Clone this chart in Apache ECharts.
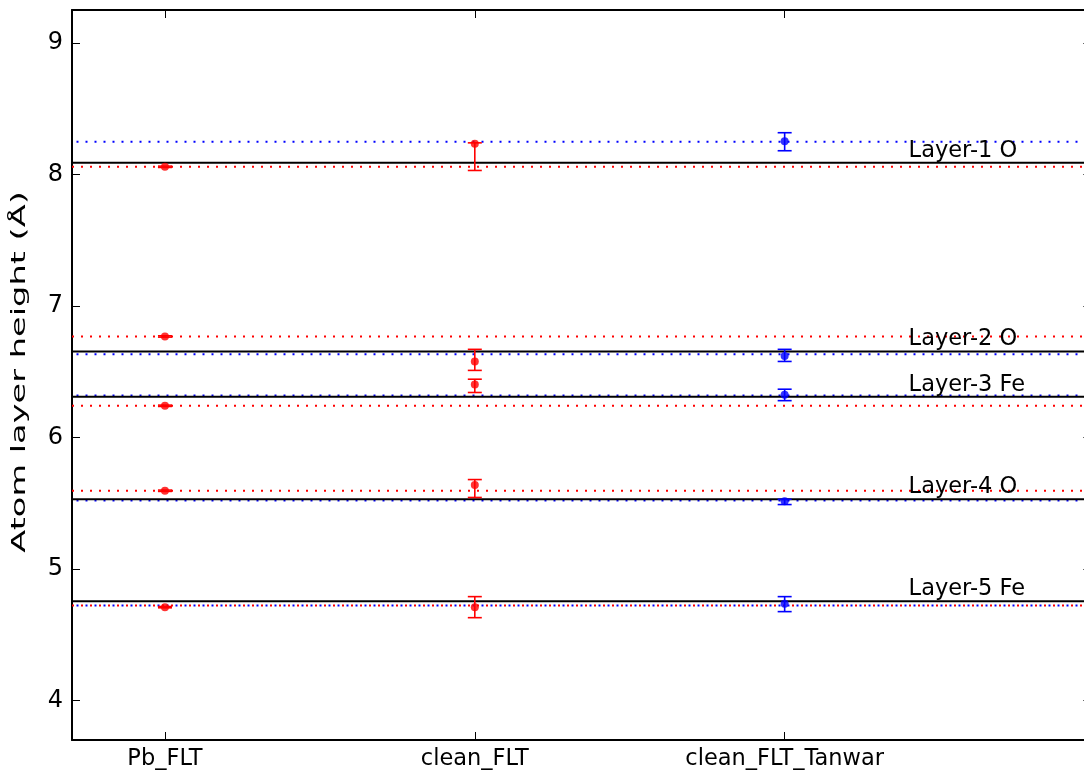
<!DOCTYPE html>
<html>
<head>
<meta charset="utf-8">
<script src="https://cdn.jsdelivr.net/npm/echarts@6/dist/echarts.min.js"></script>
<style>
html,body{margin:0;padding:0;background:#fff;overflow:hidden;}
#chart{width:1084px;height:773px;}
</style>
</head>
<body>
<div id="chart"></div>
<script>
// ---- data ----
const categories = ['Pb_FLT', 'clean_FLT', 'clean_FLT_Tanwar'];
const yTicks = [4, 5, 6, 7, 8, 9];
const yTitle = 'Atom layer height (Å)';
const layerLabels = ['Layer-1 O', 'Layer-2 O', 'Layer-3 Fe', 'Layer-4 O', 'Layer-5 Fe'];

const pbValues = [8.058, 6.768, 6.241, 5.595, 4.710];
const pbLower  = [8.053, 6.763, 6.236, 5.590, 4.705];
const pbUpper  = [8.063, 6.773, 6.246, 5.600, 4.715];

const cleanValues = [8.233, 6.578, 6.403, 5.639, 4.710];
const cleanLower  = [8.030, 6.510, 6.342, 5.544, 4.630];
const cleanUpper  = [8.240, 6.670, 6.443, 5.680, 4.790];

const tanwarValues = [8.253, 6.620, 6.324, 5.515, 4.735];
const tanwarLower  = [8.180, 6.578, 6.280, 5.490, 4.676];
const tanwarUpper  = [8.317, 6.670, 6.367, 5.530, 4.790];

const blackLines = [8.089, 6.654, 6.309, 5.530, 4.755];
const redLines   = [8.058, 6.768, 6.241, 5.595, 4.722];
const blueLines  = [8.248, 6.633, 6.320, 5.520, 4.722];

const labelX = 2.4;
const X_MIN = -0.3, X_MAX = 2.99, Y_MIN = 3.7, Y_MAX = 9.25;

// ---- chart ----
const FONT = 'DejaVu Sans';
const chart = echarts.init(document.getElementById('chart'), null, {renderer: 'canvas'});

function hLineSeries(values, color, dotted, z, offset) {
  return values.map(v => ({
    type: 'line',
    xAxisIndex: 0, yAxisIndex: 0,
    data: [[X_MIN, v], [X_MAX, v]],
    showSymbol: false, symbol: 'none',
    silent: true, animation: false, z: z,
    lineStyle: {color: color, width: 2, type: dotted ? [2, 7] : 'solid', dashOffset: offset || 0}
  }));
}

function errSeries(xIdx, values, lower, upper, color) {
  return {
    type: 'custom',
    xAxisIndex: 0, yAxisIndex: 0,
    z: 5, silent: true, animation: false,
    data: values.map((v, i) => [xIdx, v, lower[i], upper[i]]),
    renderItem: function (params, api) {
      const x = api.value(0);
      const lo = api.coord([x, api.value(2)]);
      const hi = api.coord([x, api.value(3)]);
      const hw = 7;
      const st = {stroke: color, lineWidth: 1.6};
      return {
        type: 'group',
        children: [
          {type: 'line', shape: {x1: lo[0], y1: lo[1], x2: hi[0], y2: hi[1]}, style: st},
          {type: 'line', shape: {x1: lo[0] - hw, y1: lo[1], x2: lo[0] + hw, y2: lo[1]}, style: st},
          {type: 'line', shape: {x1: hi[0] - hw, y1: hi[1], x2: hi[0] + hw, y2: hi[1]}, style: st}
        ]
      };
    }
  };
}

function pointSeries(xIdx, values, color) {
  return {
    type: 'scatter',
    xAxisIndex: 0, yAxisIndex: 0,
    z: 6, silent: true, animation: false,
    symbol: 'circle', symbolSize: 8,
    itemStyle: {color: color},
    data: values.map(v => [xIdx, v])
  };
}

const labelSeries = {
  type: 'custom',
  xAxisIndex: 0, yAxisIndex: 0,
  z: 7, silent: true, animation: false,
  data: blackLines.map((v, i) => [labelX, v, i]),
  renderItem: function (params, api) {
    const p = api.coord([api.value(0), api.value(1)]);
    return {
      type: 'text',
      x: p[0], y: p[1] - 0.5,
      style: {
        text: layerLabels[api.value(2)],
        font: '22.5px "DejaVu Sans"',
        fill: '#000',
        align: 'left',
        verticalAlign: 'bottom'
      }
    };
  }
};

const series = []
  .concat(hLineSeries(redLines, '#ff0000', true, 1, 0))
  .concat(hLineSeries(blueLines, '#0000ff', true, 1, 4.5))
  .concat(hLineSeries(blackLines, '#000000', false, 2, 0))
  .concat([
    errSeries(0, pbValues, pbLower, pbUpper, '#ff0000'),
    errSeries(1, cleanValues, cleanLower, cleanUpper, '#ff0000'),
    errSeries(2, tanwarValues, tanwarLower, tanwarUpper, '#0000ff'),
    pointSeries(0, pbValues, '#ff0000'),
    pointSeries(1, cleanValues, '#ff0000'),
    pointSeries(2, tanwarValues, '#0000ff'),
    labelSeries
  ]);

const tickIdx = categories.map((c, i) => i);
const UNIT = 309.85;

chart.setOption({
  animation: false,
  backgroundColor: '#ffffff',
  grid: {left: 72, top: 10, height: 730, width: (X_MAX - X_MIN) * UNIT,
         containLabel: false, outerBoundsMode: 'none'},
  graphic: [{
    type: 'text',
    x: 20, y: 372,
    rotation: Math.PI / 2,
    scaleX: 1.68,
    silent: true,
    style: {text: yTitle, font: '20px "DejaVu Sans"', fill: '#000', align: 'center', verticalAlign: 'middle'}
  }],
  xAxis: [
    {
      type: 'value', position: 'bottom', min: X_MIN, max: X_MAX,
      axisLine: {show: true, onZero: false, lineStyle: {color: '#000', width: 2}},
      axisTick: {show: true, inside: true, length: 8, customValues: tickIdx, lineStyle: {color: '#000', width: 1}},
      axisLabel: {show: true, customValues: tickIdx, margin: 8, color: '#000', fontFamily: FONT, fontSize: 22.5,
        formatter: v => categories[Math.round(v)]},
      splitLine: {show: false}
    },
    {
      type: 'value', position: 'top', min: X_MIN, max: X_MAX,
      axisLine: {show: true, onZero: false, lineStyle: {color: '#000', width: 2}},
      axisTick: {show: true, inside: true, length: 8, customValues: tickIdx, lineStyle: {color: '#000', width: 1}},
      axisLabel: {show: false},
      splitLine: {show: false}
    }
  ],
  yAxis: [
    {
      type: 'value', position: 'left', min: Y_MIN, max: Y_MAX,
      axisLine: {show: true, onZero: false, lineStyle: {color: '#000', width: 2}},
      axisTick: {show: true, inside: true, length: 8, customValues: yTicks, lineStyle: {color: '#000', width: 1}},
      axisLabel: {show: true, customValues: yTicks, margin: 9, color: '#000', fontFamily: FONT, fontSize: 24},
      splitLine: {show: false}
    },
    {
      type: 'value', position: 'right', min: Y_MIN, max: Y_MAX,
      axisLine: {show: false, onZero: false},
      axisTick: {show: true, inside: true, length: 8, customValues: yTicks, lineStyle: {color: '#000', width: 1}},
      axisLabel: {show: false},
      splitLine: {show: false}
    }
  ],
  series: series
});
</script>
</body>
</html>
